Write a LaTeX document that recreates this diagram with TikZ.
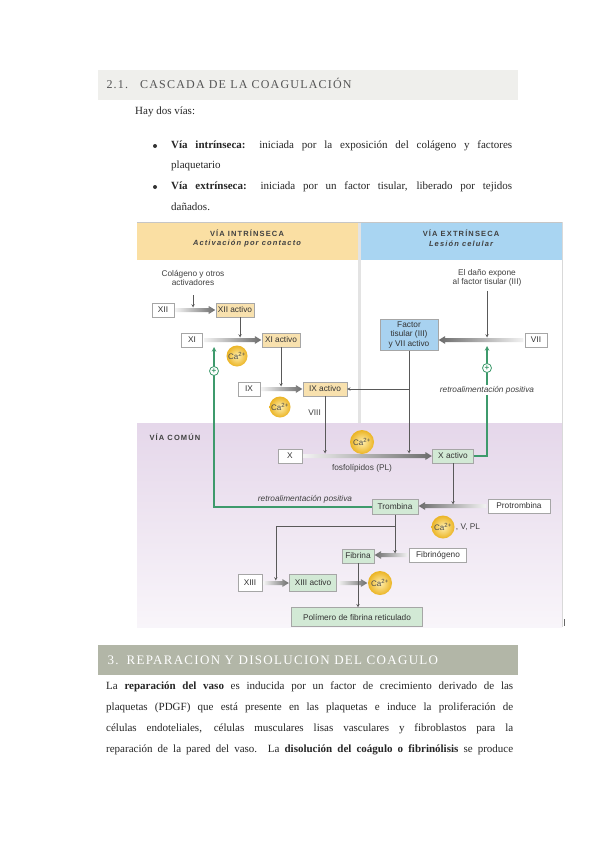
\documentclass[tikz,border=0pt]{standalone}
\usepackage{fontspec}
\setmainfont{Liberation Serif}
\newfontfamily\dgfont{Liberation Sans}
\newfontfamily\dghead[LetterSpace=15]{Liberation Sans}
\newfontfamily\secfont[LetterSpace=10]{Liberation Serif}
\usepackage{tikz}
\usetikzlibrary{positioning, calc, arrows, shapes.geometric}

\definecolor{cBarL}{HTML}{EFEFEC}
\definecolor{cBarD}{HTML}{B2B6A7}
\definecolor{cYelHd}{HTML}{FADFA3}
\definecolor{cBluHd}{HTML}{A9D5F2}
\definecolor{cYel}{HTML}{F8E1AE}
\definecolor{cGrn}{HTML}{D2E9D5}
\definecolor{cBlu}{HTML}{A8D2F0}
\definecolor{cVio}{HTML}{E5D7EA}
\definecolor{cGrnLine}{HTML}{3E9A6C}
\definecolor{cGold}{HTML}{EBB424}
\definecolor{cLight}{HTML}{FFEFAF}
\definecolor{cTxt}{HTML}{555555}

\tikzstyle{txt} = [anchor=west, inner sep=0pt, font=\fontsize{11}{13}\selectfont, text=black!85]
\tikzstyle{fbox} = [rectangle, draw=gray!70, fill=white, minimum height=14pt, inner sep=2pt, text=black!80, font=\dgfont\fontsize{8.3}{9.5}\selectfont]
\tikzstyle{yelbox} = [fbox, fill=cYel]
\tikzstyle{grnbox} = [fbox, fill=cGrn]
\tikzstyle{blubox} = [fbox, fill=cBlu]
\tikzstyle{lbl} = [text=black!75, inner sep=1pt, font=\dgfont\fontsize{8.3}{9.5}\selectfont]
\tikzstyle{hd} = [text=black!75, font=\dghead\fontsize{7.5}{9}\selectfont\bfseries]
\tikzstyle{ca} = [circle, minimum size=21pt, inner sep=0pt, inner color=cLight, outer color=cGold, text=black!70, font=\dgfont\fontsize{8}{8}\selectfont]
\tikzstyle{plus} = [circle, draw=cGrnLine, fill=white, line width=0.8pt, minimum size=9pt, inner sep=0pt, text=cGrnLine, font=\dgfont\fontsize{8}{8}\selectfont\bfseries]
\tikzstyle{arrow} = [draw=black!65, line width=0.5pt, ->, >=stealth]
\tikzstyle{fb} = [draw=cGrnLine, line width=1.1pt, ->, >=stealth]

% thick shaded arrows between boxes
\newcommand{\fatright}[2]{%
  \shade[left color=gray!10, right color=gray!85!black]
    let \p1=(#1.east), \p2=(#2.west) in
    (\x1+1.5pt,\y1+2pt) -- (\x2-7pt,\y1+2pt) -- (\x2-7pt,\y1+4pt) -- (\x2-0.5pt,\y1)
    -- (\x2-7pt,\y1-4pt) -- (\x2-7pt,\y1-2pt) -- (\x1+1.5pt,\y1-2pt) -- cycle;}
\newcommand{\fatleft}[2]{%
  \shade[left color=gray!85!black, right color=gray!10]
    let \p1=(#1.west), \p2=(#2.east) in
    (\x1-1.5pt,\y1+2pt) -- (\x2+7pt,\y1+2pt) -- (\x2+7pt,\y1+4pt) -- (\x2+0.5pt,\y1)
    -- (\x2+7pt,\y1-4pt) -- (\x2+7pt,\y1-2pt) -- (\x1-1.5pt,\y1-2pt) -- cycle;}

\begin{document}
\begin{tikzpicture}[x=1pt, y=-1pt]
\useasboundingbox (0,0) rectangle (599,848);
\fill[white] (0,0) rectangle (599,848);

% page text above
\fill[cBarL] (98,70) rectangle (518,100);
\node (sec21) [anchor=west, text=cTxt, font=\secfont\fontsize{12}{14}\selectfont] at (103,83) {2.1.\hspace{12pt}CASCADA DE LA COAGULACIÓN};
\node (hay) [txt] at (135,112) {Hay dos vías:};
\node (b1) [circle, fill=black!80, inner sep=0pt, minimum size=4pt] at (155,146) {};
\node (l1) [txt] at (171,146) {\makebox[341pt][s]{\textbf{Vía intrínseca:} iniciada por la exposición del colágeno y factores}};
\node (l2) [txt] at (171,166) {plaquetario};
\node (b2) [circle, fill=black!80, inner sep=0pt, minimum size=4pt] at (155,187) {};
\node (l3) [txt] at (171,187) {\makebox[341pt][s]{\textbf{Vía extrínseca:} iniciada por un factor tisular, liberado por tejidos}};
\node (l4) [txt] at (171,207) {dañados.};

% diagram background
\fill[white] (137,222) rectangle (562,627);
\fill[cYelHd] (137,222) rectangle (358,260);
\fill[cBluHd] (361,222) rectangle (562,260);
\fill[gray!22] (358,222) rectangle (361,423);
\shade[top color=cVio, bottom color=cVio!25] (137,423) rectangle (562,627);
\draw[gray!45, line width=0.8pt] (137,222) -- (562,222);
\draw[gray!30] (562,222) -- (562,627);
\draw[black!60, line width=0.6pt] (564,619) -- (564,626);

\node (hdint) [hd] at (247,233) {VÍA INTRÍNSECA};
\node (hdint2) [hd, font=\dghead\fontsize{7.5}{9}\selectfont\bfseries\itshape] at (247,244) {Activación por contacto};
\node (hdext) [hd] at (461,233) {VÍA EXTRÍNSECA};
\node (hdext2) [hd, font=\dghead\fontsize{7.5}{9}\selectfont\bfseries\itshape] at (461,244) {Lesión celular};
\node (comun) [hd, anchor=west] at (146,437) {VÍA COMÚN};

% boxes
\node (xii) [fbox, minimum width=22pt] at (163,310) {XII};
\node (xiiact) [yelbox, minimum width=37pt] at (235,310) {XII activo};
\node (xi) [fbox, minimum width=21pt] at (192,340) {XI};
\node (xiact) [yelbox, minimum width=38pt] at (281,340) {XI activo};
\node (ix) [fbox, minimum width=22pt] at (249,389) {IX};
\node (ixact) [yelbox, minimum width=44pt] at (325,389) {IX activo};
\node (x) [fbox, minimum width=24pt] at (290,456) {X};
\node (xact) [grnbox, minimum width=41pt] at (453,456) {X activo};
\node (tf) [blubox, minimum width=58pt, minimum height=31pt, align=center] at (409,335) {Factor\\tisular (III)\\y VII activo};
\node (vii) [fbox, minimum width=22pt] at (536,340) {VII};
\node (trom) [grnbox, minimum width=46pt, minimum height=15pt] at (395,507) {Trombina};
\node (prot) [fbox, minimum width=62pt] at (519,506) {Protrombina};
\node (fib) [grnbox, minimum width=32pt] at (358,556) {Fibrina};
\node (fibg) [fbox, minimum width=57pt] at (438,555) {Fibrinógeno};
\node (xiii) [fbox, minimum width=24pt, minimum height=17pt] at (250,583) {XIII};
\node (xiiiact) [grnbox, minimum width=47pt, minimum height=17pt] at (313,583) {XIII activo};
\node (pol) [grnbox, minimum width=131pt, minimum height=19pt] at (357,617) {Polímero de fibrina reticulado};

% calcium
\node (ca1) [ca] at (237,356) {Ca\textsuperscript{2+}};
\node (ca2) [ca] at (280,407) {Ca\textsuperscript{2+}};
\node (ca3) [ca, minimum size=24pt] at (362,442) {Ca\textsuperscript{2+}};
\node (ca4) [ca, minimum size=23pt] at (443,527) {Ca\textsuperscript{2+}};
\node (ca5) [ca, minimum size=24pt] at (380,583) {Ca\textsuperscript{2+}};
\node (vpl) [lbl, anchor=west] at (ca4.east) {, V, PL};

% labels
\node (col) [lbl, align=center] at (193,278) {Colágeno y otros\\activadores};
\node (dano) [lbl, align=center] at (487,278) {El daño expone\\al factor tisular (III)};
\node (viii) [lbl, anchor=east] at (322,413) {VIII};
\node (pl) [lbl] at (362,468) {fosfolípidos (PL)};
\node (retro1) [lbl, font=\dgfont\fontsize{8.3}{9.5}\selectfont\itshape] at (305,499) {retroalimentación positiva};

% thick arrows
\fatright{xii}{xiiact}
\fatright{xi}{xiact}
\fatright{ix}{ixact}
\fatright{x}{xact}
\fatleft{vii}{tf}
\fatleft{prot}{trom}
\fatleft{fibg}{fib}
\fatright{xiii}{xiiiact}
\fatright{xiiiact}{ca5}

% thin arrows
\draw[arrow, shorten <=8pt, shorten >=2.5pt] (col.south) -- (col.south |- xii.center);
\draw[arrow, shorten >=2.5pt] ($(xiiact.south)+(5,0)$) -- ($(xiiact.south |- xi.center)+(5,0)$);
\draw[arrow, shorten >=2.5pt] (xiact.south) -- (xiact.south |- ix.center);
\draw[arrow, shorten >=2.5pt] (ixact.south) -- (ixact.south |- x.center);
\draw[arrow, shorten >=2.5pt] (tf.south) -- (tf.south |- x.center);
\draw[arrow] (tf.south |- ixact.east) -- (ixact.east);
\draw[arrow, shorten <=3pt, shorten >=2.5pt] (dano.south) -- (dano.south |- vii.center);
\draw[arrow, shorten >=2.5pt] (xact.south) -- (xact.south |- trom.center);
\draw[arrow, shorten >=2.5pt] (trom.south) -- (trom.south |- fib.center);
\coordinate (tbr) at ($(trom.south)+(0,12)$);
\coordinate (xiiiin) at ($(xiii.east)!0.5!(xiiiact.west)$);
\draw[arrow, shorten >=2.5pt] (tbr) -| (xiiiin);
\draw[arrow] (fib.south) -- (fib.south |- pol.north);

% feedback
\coordinate (g1) at (214,347);
\draw[fb] (trom.west) -| (g1);
\coordinate (g2) at (487,346);
\draw[fb] (xact.east) -| (g2);
\node (p1) [plus] at (214,371) {+};
\node (p2) [plus] at (487,368) {+};
\node (retro2) [lbl, fill=white, font=\dgfont\fontsize{8.3}{9.5}\selectfont\itshape] at (487,390) {retroalimentación positiva};

% page text below
\fill[cBarD] (98,645) rectangle (518,675);
\node (sec3) [anchor=west, text=white, font=\secfont\fontsize{13}{15}\selectfont] at (104,660) {3.\hspace{8pt}REPARACION Y DISOLUCION DEL COAGULO};
\node (p1l) [txt] at (106,687) {\makebox[407pt][s]{La \textbf{reparación del vaso} es inducida por un factor de crecimiento derivado de las}};
\node (p2l) [txt] at (106,708) {\makebox[407pt][s]{plaquetas (PDGF) que está presente en las plaquetas e induce la proliferación de}};
\node (p3l) [txt] at (106,729) {\makebox[407pt][s]{células endoteliales, células musculares lisas vasculares y fibroblastos para la}};
\node (p4l) [txt] at (106,750) {\makebox[407pt][s]{reparación de la pared del vaso. La \textbf{disolución del coágulo o fibrinólisis} se produce}};
\end{tikzpicture}
\end{document}
